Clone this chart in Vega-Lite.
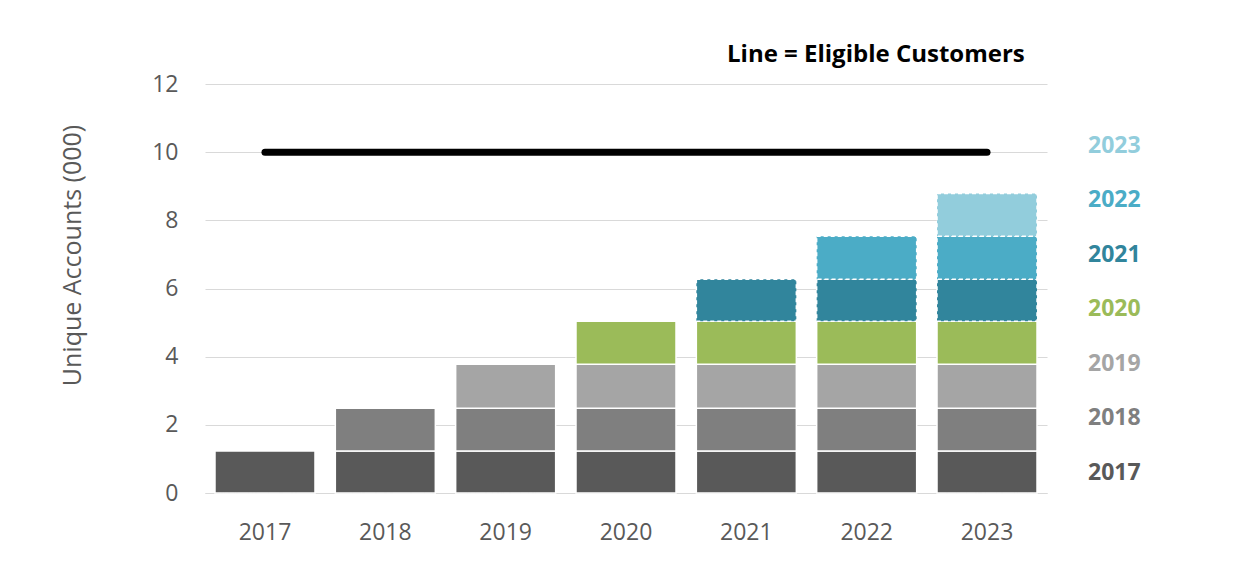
{
  "$schema": "https://vega.github.io/schema/vega-lite/v6.json",
  "width": 842,
  "height": 409,
  "autosize": {"type": "none"},
  "padding": {"left": 205, "top": 84, "right": 210, "bottom": 86},
  "background": "#ffffff",
  "title": {
    "text": "Line = Eligible Customers",
    "anchor": "start",
    "frame": "group",
    "dx": 522,
    "offset": 6,
    "font": "Open Sans",
    "fontSize": 24,
    "fontWeight": "bold",
    "color": "#000000"
  },
  "config": {
    "view": {"stroke": null},
    "font": "Open Sans"
  },
  "datasets": {
    "accounts": [
      {"year": "2017", "cohort": "2017", "value": 1.23},
      {"year": "2018", "cohort": "2017", "value": 1.23},
      {"year": "2018", "cohort": "2018", "value": 1.26},
      {"year": "2019", "cohort": "2017", "value": 1.23},
      {"year": "2019", "cohort": "2018", "value": 1.26},
      {"year": "2019", "cohort": "2019", "value": 1.29},
      {"year": "2020", "cohort": "2017", "value": 1.23},
      {"year": "2020", "cohort": "2018", "value": 1.26},
      {"year": "2020", "cohort": "2019", "value": 1.29},
      {"year": "2020", "cohort": "2020", "value": 1.26},
      {"year": "2021", "cohort": "2017", "value": 1.23},
      {"year": "2021", "cohort": "2018", "value": 1.26},
      {"year": "2021", "cohort": "2019", "value": 1.29},
      {"year": "2021", "cohort": "2020", "value": 1.26},
      {"year": "2021", "cohort": "2021", "value": 1.23},
      {"year": "2022", "cohort": "2017", "value": 1.23},
      {"year": "2022", "cohort": "2018", "value": 1.26},
      {"year": "2022", "cohort": "2019", "value": 1.29},
      {"year": "2022", "cohort": "2020", "value": 1.26},
      {"year": "2022", "cohort": "2021", "value": 1.23},
      {"year": "2022", "cohort": "2022", "value": 1.26},
      {"year": "2023", "cohort": "2017", "value": 1.23},
      {"year": "2023", "cohort": "2018", "value": 1.26},
      {"year": "2023", "cohort": "2019", "value": 1.29},
      {"year": "2023", "cohort": "2020", "value": 1.26},
      {"year": "2023", "cohort": "2021", "value": 1.23},
      {"year": "2023", "cohort": "2022", "value": 1.26},
      {"year": "2023", "cohort": "2023", "value": 1.26}
    ],
    "eligible": [
      {"year": "2017", "customers": 10},
      {"year": "2018", "customers": 10},
      {"year": "2019", "customers": 10},
      {"year": "2020", "customers": 10},
      {"year": "2021", "customers": 10},
      {"year": "2022", "customers": 10},
      {"year": "2023", "customers": 10}
    ]
  },
  "layer": [
    {
      "data": {"name": "accounts"},
      "mark": {"type": "bar", "stroke": "#ffffff", "strokeWidth": 1.5},
      "encoding": {
        "x": {
          "field": "year",
          "type": "nominal",
          "scale": {"paddingInner": 0.169, "paddingOuter": 0.083},
          "axis": {
            "title": null,
            "labelAngle": 0,
            "ticks": false,
            "labelPadding": 28,
            "labelFontSize": 23,
            "labelColor": "#595959",
            "domainColor": "#d9d9d9",
            "domainWidth": 1
          }
        },
        "y": {
          "field": "value",
          "type": "quantitative",
          "aggregate": "sum",
          "stack": "zero",
          "scale": {"domain": [0, 12]},
          "axis": {
            "title": "Unique Accounts (000)",
            "titleFontSize": 25,
            "titleFontWeight": "normal",
            "titleColor": "#595959",
            "titlePadding": 66,
            "titleY": 171,
            "values": [0, 2, 4, 6, 8, 10, 12],
            "ticks": false,
            "domain": false,
            "labelPadding": 27,
            "labelFontSize": 23,
            "labelColor": "#595959",
            "gridColor": "#d9d9d9",
            "gridWidth": 1
          }
        },
        "color": {
          "field": "cohort",
          "type": "nominal",
          "scale": {
            "domain": ["2023", "2022", "2021", "2020", "2019", "2018", "2017"],
            "range": ["#92cddc", "#4bacc6", "#31859c", "#9bbb59", "#a5a5a5", "#7f7f7f", "#595959"]
          },
          "legend": {
            "title": null,
            "orient": "none",
            "legendX": 860,
            "legendY": 50,
            "direction": "vertical",
            "symbolSize": 0,
            "symbolStrokeWidth": 0,
            "symbolOpacity": 0,
            "labelOffset": 0,
            "padding": 0,
            "rowPadding": 30.5,
            "labelFontSize": 23,
            "labelFontWeight": "bold",
            "labelFont": "Open Sans",
            "labelColor": {"expr": "scale('color', datum.value)"}
          }
        },
        "order": {"field": "cohort", "type": "ordinal", "sort": "ascending"},
        "strokeDash": {
          "condition": {"test": "datum.cohort >= '2021'", "value": [4, 3]},
          "value": [1, 0]
        }
      }
    },
    {
      "data": {"name": "eligible"},
      "mark": {"type": "line", "color": "#000000", "strokeWidth": 7, "strokeCap": "round"},
      "encoding": {
        "x": {"field": "year", "type": "nominal"},
        "y": {"field": "customers", "type": "quantitative"}
      }
    }
  ]
}
